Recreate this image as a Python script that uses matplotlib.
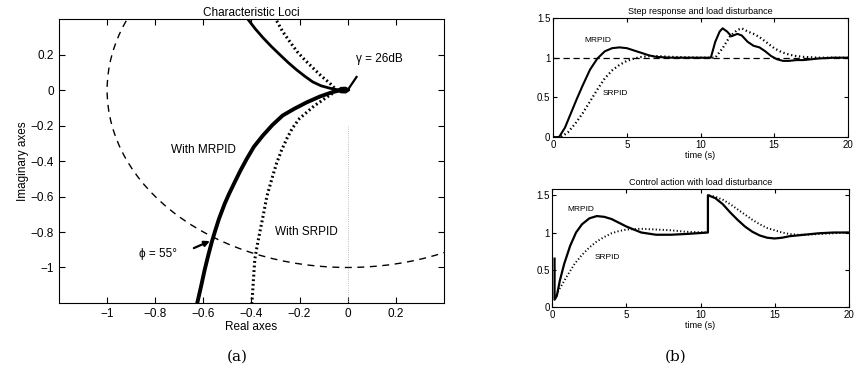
import matplotlib
matplotlib.use("Agg")
import matplotlib.pyplot as plt
from matplotlib.patches import Arc
from matplotlib.ticker import FormatStrFormatter

plt.rcParams['font.family'] = ['Liberation Sans', 'DejaVu Sans']

# --- characteristic loci (a) ---
mr_up_x = [-0.415, -0.385, -0.353, -0.318, -0.282, -0.247, -0.212, -0.178, -0.145, -0.11, -0.075, -0.05, -0.033]
mr_up_y = [0.40, 0.347, 0.297, 0.247, 0.20, 0.155, 0.114, 0.078, 0.046, 0.024, 0.011, 0.004, 0.0]
mr_lo_x = [-0.033, -0.062, -0.115, -0.17, -0.22, -0.27, -0.313, -0.353, -0.39, -0.42, -0.447, -0.472,
           -0.493, -0.511, -0.535, -0.55, -0.565, -0.58, -0.594, -0.61, -0.627]
mr_lo_y = [-0.002, -0.011, -0.036, -0.069, -0.104, -0.143, -0.197, -0.257, -0.32, -0.389, -0.457, -0.526,
           -0.585, -0.64, -0.726, -0.79, -0.857, -0.934, -1.011, -1.11, -1.211]
loop_x = [-0.04, -0.028, -0.008, 0.006, -0.008, -0.028, -0.04, 0.0, 0.037]
loop_y = [0.0, 0.012, 0.013, 0.0, -0.013, -0.012, 0.0, 0.0, 0.074]
sr_up_x = [-0.295, -0.27, -0.24, -0.21, -0.178, -0.145, -0.11, -0.075, -0.046]
sr_up_y = [0.39, 0.33, 0.272, 0.217, 0.17, 0.126, 0.08, 0.04, 0.0]
sr_lo_x = [-0.046, -0.075, -0.14, -0.2, -0.23, -0.253, -0.275, -0.295, -0.31, -0.324, -0.336, -0.35,
           -0.365, -0.376, -0.386, -0.398]
sr_lo_y = [-0.005, -0.029, -0.09, -0.16, -0.215, -0.274, -0.34, -0.411, -0.477, -0.543, -0.60, -0.70,
           -0.80, -0.877, -0.954, -1.2]

# --- step response and load disturbance ---
t_mr = [0, 0.4, 0.8, 1.2, 1.6, 2.0, 2.5, 3.0, 3.5, 4.0, 4.5, 5.0, 5.5, 6.0, 6.5, 7.0, 8, 9, 10,
        10.7, 11.0, 11.3, 11.5, 11.8, 12.1, 12.5, 12.8, 13.2, 13.6, 14.0, 14.4, 14.8, 15.2, 15.6,
        16.0, 16.5, 17, 17.5, 18, 19, 20]
y_mr = [0, 0.0, 0.12, 0.3, 0.48, 0.65, 0.85, 0.99, 1.08, 1.12, 1.13, 1.12, 1.09, 1.06, 1.03, 1.01,
        1.0, 1.0, 1.0, 1.0, 1.2, 1.33, 1.37, 1.33, 1.27, 1.30, 1.28, 1.2, 1.15, 1.13, 1.08, 1.02,
        0.98, 0.96, 0.96, 0.97, 0.97, 0.98, 0.99, 1.0, 1.0]
t_sr = [0, 0.5, 1.0, 1.5, 2.0, 2.5, 3.0, 3.5, 4.0, 4.5, 5.0, 5.5, 6.0, 6.5, 7, 8, 10, 11.0, 11.5,
        12.0, 12.5, 12.8, 13.2, 13.6, 14.0, 14.5, 15.0, 15.5, 16, 16.5, 17, 18, 20]
y_sr = [0, 0.0, 0.06, 0.17, 0.3, 0.45, 0.6, 0.74, 0.84, 0.91, 0.96, 0.99, 1.01, 1.02, 1.02, 1.01,
        1.0, 1.0, 1.12, 1.27, 1.35, 1.37, 1.33, 1.30, 1.26, 1.19, 1.12, 1.07, 1.04, 1.02, 1.01, 1.0, 1.0]
ref_t = [0, 20]
ref_y = [1, 1]

# --- control action with load disturbance ---
tc_mr = [0.15, 0.15, 0.3, 0.5, 0.8, 1.2, 1.6, 2.0, 2.5, 3.0, 3.5, 4.0, 4.5, 5.0, 5.5, 6.0, 7.0,
         8.0, 9.0, 10.5, 10.5, 11.0, 11.5, 12.0, 12.5, 13.0, 13.5, 14.0, 14.5, 15.0, 15.5, 16.0,
         17, 18, 19, 20]
uc_mr = [0.65, 0.1, 0.15, 0.35, 0.58, 0.82, 1.0, 1.11, 1.19, 1.22, 1.21, 1.18, 1.13, 1.08, 1.04,
         1.0, 0.97, 0.97, 0.98, 1.0, 1.5, 1.46, 1.38, 1.27, 1.17, 1.08, 1.01, 0.96, 0.93, 0.92,
         0.93, 0.95, 0.97, 0.99, 1.0, 1.0]
tc_sr = [0.15, 0.5, 1.0, 1.5, 2.0, 2.5, 3.0, 3.5, 4.0, 4.5, 5.0, 6.0, 7.0, 8.0, 9.0, 10.5, 10.5,
         11.0, 11.5, 12.0, 12.5, 13.0, 13.5, 14.0, 14.5, 15.0, 15.5, 16.0, 16.5, 17, 18, 20]
uc_sr = [0.12, 0.25, 0.42, 0.58, 0.7, 0.8, 0.88, 0.94, 0.99, 1.02, 1.04, 1.05, 1.04, 1.03, 1.01,
         1.0, 1.5, 1.48, 1.44, 1.38, 1.31, 1.24, 1.17, 1.11, 1.06, 1.03, 1.0, 0.98, 0.97, 0.97,
         0.98, 1.0]

fig = plt.figure(figsize=(8.59, 3.83), dpi=100)

# (a)
ax = fig.add_axes([0.0687, 0.209, 0.448, 0.741])
ax.add_patch(Arc((0, 0), 2, 2, theta1=0, theta2=360, ls=(0, (5, 4)), lw=1.0, color='black'))
ax.plot([0, 0], [-0.2, -1.2], ls=':', lw=0.6, color='#aaaaaa')
ax.plot(mr_up_x, mr_up_y, color='black', lw=2.0, solid_joinstyle='round')
ax.plot(mr_lo_x, mr_lo_y, color='black', lw=2.8, solid_joinstyle='round')
ax.plot(loop_x, loop_y, color='black', lw=1.6)
ax.plot(sr_up_x, sr_up_y, color='black', lw=2.2, ls=(0, (0.6, 0.9)))
ax.plot(sr_lo_x, sr_lo_y, color='black', lw=2.2, ls=(0, (0.6, 0.9)))
ax.set_xlim(-1.2, 0.4)
ax.set_ylim(-1.2, 0.4)
ax.set_xticks([-1, -0.8, -0.6, -0.4, -0.2, 0, 0.2])
ax.set_xticklabels(['\u22121', '\u22120.8', '\u22120.6', '\u22120.4', '\u22120.2', '0', '0.2'])
ax.set_yticks([0.2, 0, -0.2, -0.4, -0.6, -0.8, -1])
ax.set_yticklabels(['0.2', '0', '\u22120.2', '\u22120.4', '\u22120.6', '\u22120.8', '\u22121'])
ax.tick_params(direction='in', top=True, right=True, labelsize=8.5, length=4)
ax.set_title('Characteristic Loci', fontsize=8.5, pad=2)
ax.set_xlabel('Real axes', fontsize=8.5, labelpad=1)
ax.set_ylabel('Imaginary axes', fontsize=8.5, labelpad=1)
ax.text(0.035, 0.16, '\u03b3 = 26dB', fontsize=8.5)
ax.text(-0.6, -0.34, 'With MRPID', fontsize=8.5, ha='center', va='center')
ax.text(-0.17, -0.8, 'With SRPID', fontsize=8.5, ha='center', va='center')
ax.text(-0.79, -0.925, '\u03d5 = 55\u00b0', fontsize=8.5, ha='center', va='center')
ax.annotate('', xy=(-0.562, -0.845), xytext=(-0.65, -0.897),
            arrowprops=dict(arrowstyle='-|>', color='black', lw=1.6, mutation_scale=8))
fig.text(0.276, 0.07, '(a)', family='DejaVu Serif', fontsize=11, ha='center', va='center')

# (b) top
ax1 = fig.add_axes([0.644, 0.642, 0.343, 0.311])
ax1.plot(ref_t, ref_y, color='black', lw=0.9, ls=(0, (5, 3)))
ax1.plot(t_sr, y_sr, color='black', lw=1.6, ls=(0, (0.6, 1.2)))
ax1.plot(t_mr, y_mr, color='black', lw=1.5)
ax1.set_xlim(0, 20)
ax1.set_ylim(0, 1.5)
ax1.set_xticks([0, 5, 10, 15, 20])
ax1.set_yticks([0, 0.5, 1, 1.5])
ax1.yaxis.set_major_formatter(FormatStrFormatter('%g'))
ax1.tick_params(direction='in', top=True, right=True, labelsize=7, length=3, pad=2)
ax1.set_title('Step response and load disturbance', fontsize=6.5, pad=3)
ax1.set_xlabel('time (s)', fontsize=6.5, labelpad=1)
ax1.text(3.0, 1.22, 'MRPID', fontsize=6, ha='center', va='center')
ax1.text(4.2, 0.55, 'SRPID', fontsize=6, ha='center', va='center')

# (b) bottom
ax2 = fig.add_axes([0.643, 0.198, 0.345, 0.308])
ax2.plot(tc_sr, uc_sr, color='black', lw=1.4, ls=(0, (0.6, 1.2)))
ax2.plot(tc_mr, uc_mr, color='black', lw=1.6)
ax2.set_xlim(0, 20)
ax2.set_ylim(0, 1.58)
ax2.set_xticks([0, 5, 10, 15, 20])
ax2.set_yticks([0, 0.5, 1, 1.5])
ax2.yaxis.set_major_formatter(FormatStrFormatter('%g'))
ax2.tick_params(direction='in', top=True, right=True, labelsize=7, length=3, pad=2)
ax2.set_title('Control action with load disturbance', fontsize=6.5, pad=3)
ax2.set_xlabel('time (s)', fontsize=6.5, labelpad=1)
ax2.text(1.9, 1.31, 'MRPID', fontsize=6, ha='center', va='center')
ax2.text(3.7, 0.67, 'SRPID', fontsize=6, ha='center', va='center')
fig.text(0.786, 0.07, '(b)', family='DejaVu Serif', fontsize=11, ha='center', va='center')

fig.savefig('out.png', dpi=100)
